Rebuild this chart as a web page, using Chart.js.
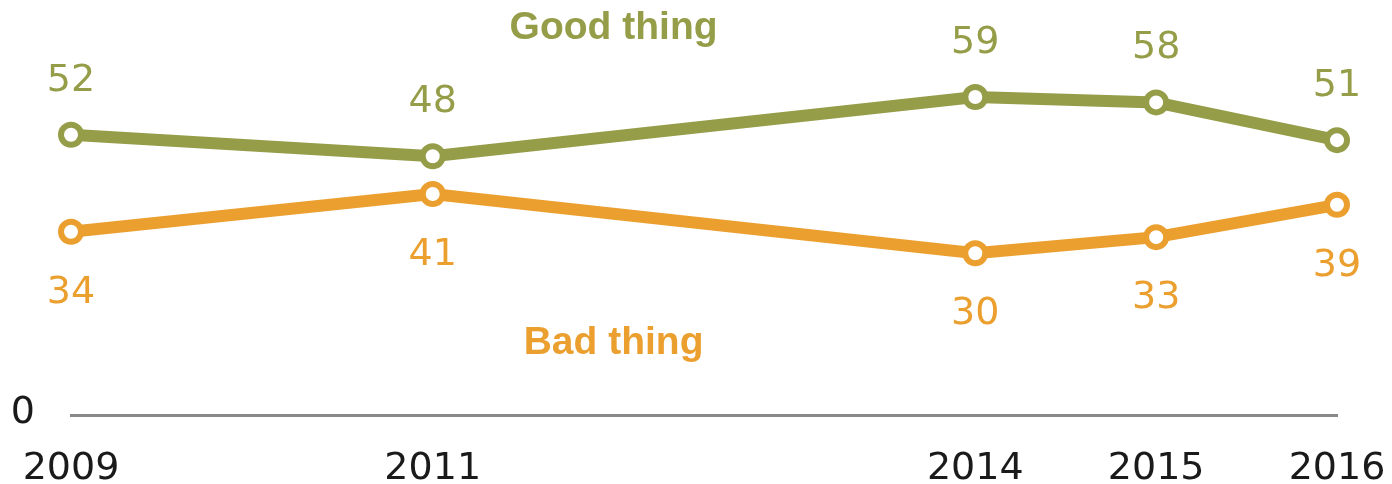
<!DOCTYPE html>
<html>
<head>
<meta charset="utf-8">
<script src="https://cdn.jsdelivr.net/npm/chart.js@4/dist/chart.umd.min.js"></script>
<style>
  html, body { margin: 0; padding: 0; background: #fff; }
  #wrap { width: 1392px; height: 484px; position: relative; }
</style>
</head>
<body>
<div id="wrap"><canvas id="myChart"></canvas></div>
<script>
const years = [2009, 2011, 2014, 2015, 2016];
const goodThing = [52, 48, 59, 58, 51];
const badThing = [34, 41, 30, 33, 39];
const yTicks = [0];

const green = '#959d48', orange = '#eb9f2e';

// etiquetas de valor em cima/embaixo dos pontos + nomes das séries
const labelPlugin = {
    id: 'labels',
    afterDatasetsDraw(chart) {
        const ctx = chart.ctx;
        const xs = chart.scales.x, ys = chart.scales.y;
        ctx.save();
        ctx.textAlign = 'center';
        ctx.textBaseline = 'middle';
        ctx.font = '38px "DejaVu Sans"';
        chart.data.datasets.forEach((ds, i) => {
            const meta = chart.getDatasetMeta(i);
            ctx.fillStyle = ds.borderColor;
            meta.data.forEach((pt, j) => {
                ctx.fillText(ds.data[j].y, pt.x, pt.y + ds.labelOffset);
            });
        });
        // rótulo do eixo y (só o zero)
        ctx.fillStyle = '#1a1a1a';
        ctx.textAlign = 'right';
        yTicks.forEach(v => ctx.fillText(String(v), xs.left - 36, ys.getPixelForValue(v) - 2));

        ctx.font = 'bold 39px "Liberation Sans"';
        ctx.textAlign = 'center';
        ctx.textBaseline = 'alphabetic';
        ctx.fillStyle = green;
        ctx.fillText('Good thing', xs.getPixelForValue(2012), ys.getPixelForValue(69.7));
        ctx.fillStyle = orange;
        ctx.fillText('Bad thing', xs.getPixelForValue(2012), ys.getPixelForValue(11.4));
        ctx.restore();
    }
};

const toPoints = arr => arr.map((v, i) => ({ x: years[i], y: v }));

const commonDs = {
    borderWidth: 12,
    pointRadius: 10,
    pointBorderWidth: 6,
    pointBackgroundColor: '#fff',
    tension: 0,
    clip: false
};

new Chart(document.getElementById('myChart').getContext('2d'), {
    type: 'line',
    data: {
        datasets: [
            Object.assign({ label: 'Good thing', data: toPoints(goodThing), borderColor: green, pointBorderColor: green, labelOffset: -54 }, commonDs),
            Object.assign({ label: 'Bad thing', data: toPoints(badThing), borderColor: orange, pointBorderColor: orange, labelOffset: 61 }, commonDs)
        ]
    },
    options: {
        responsive: true,
        maintainAspectRatio: false,
        animation: false,
        layout: { autoPadding: false, padding: { left: 0, right: 55, top: 0, bottom: 0 } },
        plugins: { legend: { display: false }, tooltip: { enabled: false } },
        scales: {
            x: {
                type: 'linear',
                min: 2009,
                max: 2016,
                afterBuildTicks: s => { s.ticks = years.map(v => ({ value: v })); },
                afterFit: s => { s.height = 69; s.paddingLeft = 0; s.paddingRight = 0; },
                grid: { display: false, drawTicks: false },
                border: { display: true, color: '#888888', width: 3 },
                ticks: {
                    padding: 31,
                    color: '#1a1a1a',
                    font: { family: 'DejaVu Sans', size: 38 },
                    callback: v => String(v),
                    maxRotation: 0
                }
            },
            y: {
                min: 0,
                max: 77,
                display: true,
                afterFit: s => { s.width = 71; s.paddingTop = 0; s.paddingBottom = 0; },
                grid: { display: false, drawTicks: false },
                border: { display: false },
                ticks: { display: false }
            }
        }
    },
    plugins: [labelPlugin]
});
</script>
</body>
</html>
